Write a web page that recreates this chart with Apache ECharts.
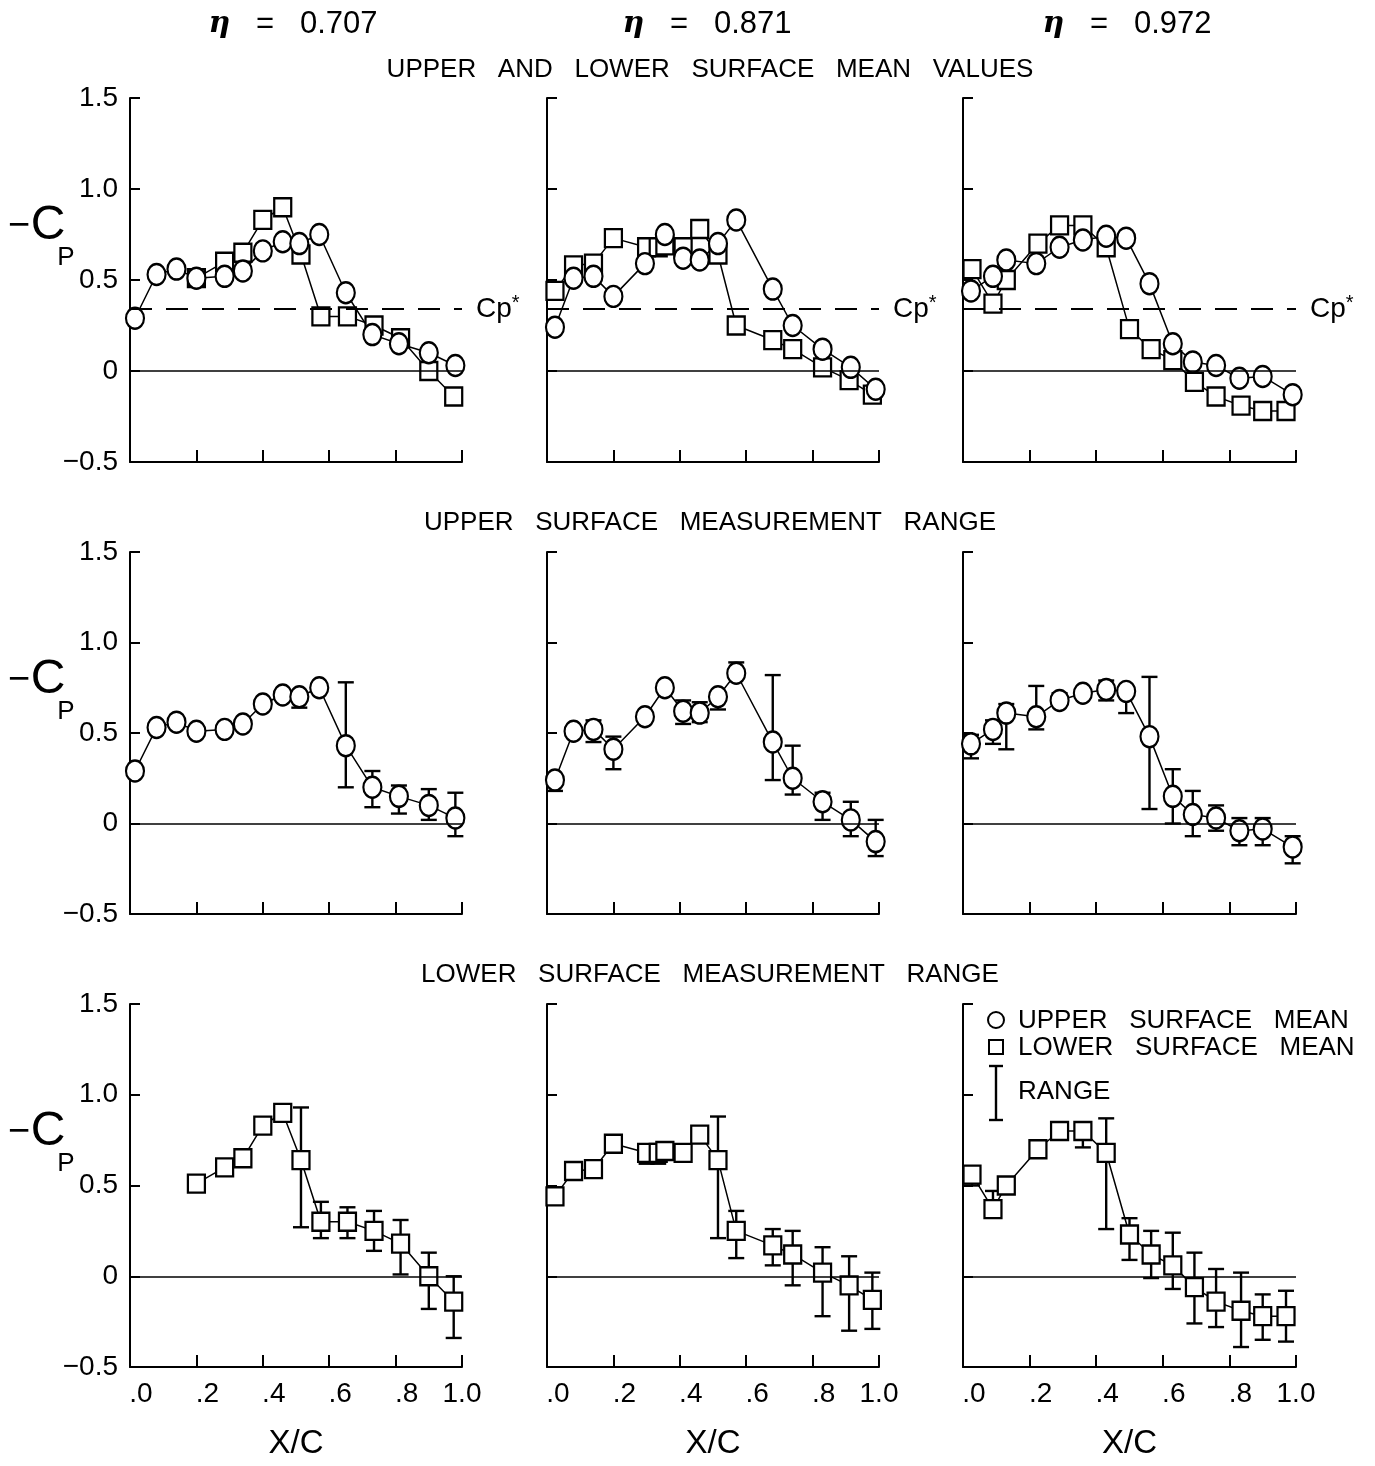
<!DOCTYPE html>
<html>
<head>
<meta charset="utf-8">
<script src="https://cdn.jsdelivr.net/npm/echarts@6/dist/echarts.min.js"></script>
<style>html,body{margin:0;padding:0;background:#fff}#c{width:1375px;height:1466px}</style>
</head>
<body>
<div id="c"></div>
<script>
// ---------- DATA ----------
const etaLabels = ['0.707', '0.871', '0.972'];
const rowTitles = ['UPPER   AND   LOWER   SURFACE   MEAN   VALUES', 'UPPER   SURFACE   MEASUREMENT   RANGE', 'LOWER   SURFACE   MEASUREMENT   RANGE'];
const yTicks = [-0.5, 0, 0.5, 1.0, 1.5];
const xTicks = [0, 0.2, 0.4, 0.6, 0.8, 1.0];
const cpStar = 0.34;

// eta = 0.707
const xU1 = [0.015, 0.08, 0.14, 0.20, 0.285, 0.34, 0.40, 0.46, 0.51, 0.57, 0.65, 0.73, 0.81, 0.90, 0.98];
const upperMean1 = [0.29, 0.53, 0.56, 0.51, 0.52, 0.55, 0.66, 0.71, 0.70, 0.75, 0.43, 0.20, 0.15, 0.10, 0.03];
const upperLow1 = [null, null, null, null, null, null, null, null, 0.64, null, 0.20, 0.09, 0.055, 0.02, -0.07];
const upperHigh1 = [null, null, null, null, null, null, null, null, 0.73, null, 0.78, 0.29, 0.21, 0.19, 0.17];
const xL1 = [0.20, 0.285, 0.34, 0.40, 0.46, 0.515, 0.575, 0.655, 0.735, 0.815, 0.90, 0.975];
const lowerMean1 = [0.51, 0.60, 0.65, 0.83, 0.90, 0.64, 0.30, 0.30, 0.25, 0.18, 0.00, -0.14];
const lowerLow1 = [0.47, null, null, null, null, 0.27, 0.21, 0.21, 0.14, 0.01, -0.18, -0.34];
const lowerHigh1 = [0.53, null, null, null, null, 0.93, 0.41, 0.38, 0.36, 0.31, 0.13, 0.00];

// eta = 0.871
const xU2 = [0.024, 0.08, 0.14, 0.20, 0.295, 0.355, 0.41, 0.46, 0.515, 0.57, 0.68, 0.74, 0.83, 0.915, 0.99];
const upperMean2 = [0.24, 0.51, 0.52, 0.41, 0.59, 0.75, 0.62, 0.61, 0.70, 0.83, 0.45, 0.25, 0.12, 0.02, -0.10];
const upperLow2 = [0.18, null, 0.45, 0.30, null, null, 0.55, 0.56, 0.63, 0.80, 0.24, 0.16, 0.02, -0.07, -0.18];
const upperHigh2 = [0.27, null, 0.57, 0.48, null, null, 0.68, 0.67, 0.73, 0.89, 0.82, 0.43, 0.17, 0.12, 0.02];
const xL2 = [0.024, 0.08, 0.14, 0.20, 0.30, 0.335, 0.355, 0.41, 0.46, 0.515, 0.57, 0.68, 0.74, 0.83, 0.91, 0.98];
const lowerMean2 = [0.44, 0.58, 0.59, 0.73, 0.68, 0.68, 0.69, 0.68, 0.78, 0.64, 0.25, 0.17, 0.12, 0.02, -0.05, -0.13];
const lowerLow2 = [0.41, null, null, null, 0.62, 0.62, null, null, null, 0.21, 0.10, 0.06, -0.05, -0.22, -0.30, -0.29];
const lowerHigh2 = [0.49, null, null, null, 0.70, 0.70, null, null, null, 0.88, 0.36, 0.26, 0.25, 0.16, 0.11, 0.02];

// eta = 0.972
const xU3 = [0.024, 0.09, 0.13, 0.22, 0.29, 0.36, 0.43, 0.49, 0.56, 0.63, 0.69, 0.76, 0.83, 0.90, 0.99];
const upperMean3 = [0.44, 0.52, 0.61, 0.59, 0.68, 0.72, 0.74, 0.73, 0.48, 0.15, 0.05, 0.03, -0.04, -0.03, -0.13];
const upperLow3 = [0.36, 0.44, 0.41, 0.52, 0.66, null, 0.68, 0.61, 0.08, 0.00, -0.07, -0.04, -0.12, -0.12, -0.22];
const upperHigh3 = [0.49, 0.57, 0.66, 0.76, 0.72, null, 0.79, 0.76, 0.81, 0.30, 0.18, 0.10, 0.03, 0.03, -0.07];
const xL3 = [0.027, 0.09, 0.13, 0.225, 0.29, 0.36, 0.43, 0.50, 0.565, 0.63, 0.695, 0.76, 0.835, 0.90, 0.97];
const lowerMean3 = [0.56, 0.37, 0.50, 0.70, 0.80, 0.80, 0.68, 0.23, 0.12, 0.06, -0.06, -0.14, -0.19, -0.22, -0.22];
const lowerLow3 = [0.50, 0.35, null, null, null, 0.71, 0.26, 0.09, -0.01, -0.07, -0.26, -0.28, -0.39, -0.35, -0.36];
const lowerHigh3 = [0.58, 0.47, null, null, null, 0.82, 0.87, 0.32, 0.25, 0.24, 0.13, 0.04, 0.02, -0.10, -0.08];

const upperX = [xU1, xU2, xU3];
const upperMean = [upperMean1, upperMean2, upperMean3];
const upperLow = [upperLow1, upperLow2, upperLow3];
const upperHigh = [upperHigh1, upperHigh2, upperHigh3];
const lowerX = [xL1, xL2, xL3];
const lowerMean = [lowerMean1, lowerMean2, lowerMean3];
const lowerLow = [lowerLow1, lowerLow2, lowerLow3];
const lowerHigh = [lowerHigh1, lowerHigh2, lowerHigh3];

// ---------- LAYOUT ----------
const FONT = 'Liberation Sans';
const colLeft = [130, 547, 963];
const colWidth = [332, 332, 333];
const rowTop = [98, 552, 1004];
const rowHeight = [364, 362, 363];

const zip = (xs, ys) => xs.map((x, i) => [x, ys[i]]);
const ranges = (xs, lo, hi) => xs.map((x, i) => [x, lo[i], hi[i]]).filter(d => d[1] != null && d[2] != null);

function meanSeries(g, data, symbol, size) {
  return {
    type: 'line', xAxisIndex: g, yAxisIndex: g, data: data, z: 3,
    symbol: symbol, symbolSize: size, showAllSymbol: true,
    itemStyle: {color: '#fff', borderColor: '#000', borderWidth: 2.3},
    lineStyle: {color: '#000', width: 1.5},
    emphasis: {disabled: true}, silent: true
  };
}
function errSeries(g, data) {
  return {
    type: 'custom', xAxisIndex: g, yAxisIndex: g, data: data, z: 2, silent: true,
    renderItem: function (params, api) {
      const x = api.value(0), lo = api.value(1), hi = api.value(2);
      const a = api.coord([x, hi]), b = api.coord([x, lo]);
      const w = 8;
      const st = {stroke: '#000', lineWidth: 2.4};
      return {type: 'group', children: [
        {type: 'line', shape: {x1: a[0], y1: a[1], x2: b[0], y2: b[1]}, style: st},
        {type: 'line', shape: {x1: a[0] - w, y1: a[1], x2: a[0] + w, y2: a[1]}, style: st},
        {type: 'line', shape: {x1: b[0] - w, y1: b[1], x2: b[0] + w, y2: b[1]}, style: st}
      ]};
    }
  };
}

const grids = [], xAxes = [], yAxes = [], series = [];
let gi = 0;
for (let r = 0; r < 3; r++) {
  for (let c = 0; c < 3; c++) {
    grids.push({left: colLeft[c], top: rowTop[r], width: colWidth[c], height: rowHeight[r], containLabel: false});
    xAxes.push({
      gridIndex: gi, type: 'value', min: 0, max: 1, interval: 0.2,
      axisLine: {show: true, onZero: false, lineStyle: {color: '#000', width: 2}},
      axisTick: {show: true, inside: true, length: 12, lineStyle: {color: '#000', width: 2}},
      splitLine: {show: false},
      axisLabel: {
        show: r === 2, margin: 13, color: '#000', fontFamily: FONT, fontSize: 28,
        formatter: v => v === 1 ? '{w|1.0}' : '{d|.' + Math.round(v * 10) + '}',
        rich: {d: {fontFamily: FONT, fontSize: 28, color: '#000', padding: [0, 0, 0, 22]}, w: {fontFamily: FONT, fontSize: 28, color: '#000'}}
      },
      name: r === 2 ? 'X/C' : '', nameLocation: 'middle', nameGap: 60,
      nameTextStyle: {fontFamily: FONT, fontSize: 33, color: '#000'}
    });
    yAxes.push({
      gridIndex: gi, type: 'value', min: -0.5, max: 1.5, interval: 0.5,
      axisLine: {show: true, onZero: false, lineStyle: {color: '#000', width: 2}},
      axisTick: {show: true, inside: true, length: 10, lineStyle: {color: '#000', width: 2}},
      splitLine: {show: false},
      axisLabel: {
        show: c === 0, margin: 12, color: '#000', fontFamily: FONT, fontSize: 28,
        formatter: v => v === 0 ? '0' : (v < 0 ? '\u2212' + Math.abs(v).toFixed(1) : v.toFixed(1))
      }
    });

    // reference lines
    const mlData = [{yAxis: 0, lineStyle: {type: 'solid', width: 1.5, color: '#000'}, label: {show: false}}];
    if (r === 0) {
      mlData.push({
        yAxis: cpStar, lineStyle: {type: [22, 14], width: 2, color: '#000'},
        label: {show: true, position: 'end', distance: 14, formatter: 'Cp{s|*}', color: '#000', fontFamily: FONT, fontSize: 28,
          rich: {s: {fontFamily: FONT, fontSize: 20, color: '#000', verticalAlign: 'top', padding: [0, 0, 12, 0]}}}
      });
    }
    series.push({
      type: 'line', xAxisIndex: gi, yAxisIndex: gi, data: [], silent: true,
      markLine: {symbol: 'none', silent: true, animation: false, data: mlData}
    });

    if (r === 1) series.push(errSeries(gi, ranges(upperX[c], upperLow[c], upperHigh[c])));
    if (r === 2) series.push(errSeries(gi, ranges(lowerX[c], lowerLow[c], lowerHigh[c])));
    if (r === 0 || r === 2) series.push(meanSeries(gi, zip(lowerX[c], lowerMean[c]), 'rect', [17, 18]));
    if (r === 0 || r === 1) series.push(meanSeries(gi, zip(upperX[c], upperMean[c]), 'circle', [18, 21]));
    gi++;
  }
}

// ---------- TEXT (titles, axis names, legend) ----------
const graphics = [];
const colCenter = [293, 707, 1127];
for (let c = 0; c < 3; c++) {
  graphics.push({type: 'text', x: colCenter[c], y: 24, style: {
    text: '{e|\u03b7}   =   ' + etaLabels[c], align: 'center', verticalAlign: 'middle',
    fontFamily: FONT, fontSize: 31, fill: '#000',
    rich: {e: {fontFamily: 'DejaVu Serif', fontStyle: 'italic', fontWeight: 'bold', fontSize: 30, fill: '#000'}}
  }});
}
const titleY = [70, 523, 975];
for (let r = 0; r < 3; r++) {
  graphics.push({type: 'text', x: 710, y: titleY[r], style: {
    text: rowTitles[r], align: 'center', verticalAlign: 'middle', fontFamily: FONT, fontSize: 26, fill: '#000'
  }});
  // -Cp label
  graphics.push({type: 'text', x: 19, y: rowTop[r] + 129, style: {text: '\u2212', align: 'center', verticalAlign: 'middle', fontFamily: FONT, fontSize: 38, fill: '#000'}});
  graphics.push({type: 'text', x: 48, y: rowTop[r] + 128, style: {text: 'C', align: 'center', verticalAlign: 'middle', fontFamily: FONT, fontSize: 48, fill: '#000'}});
  graphics.push({type: 'text', x: 66, y: rowTop[r] + 160, style: {text: 'P', align: 'center', verticalAlign: 'middle', fontFamily: FONT, fontSize: 26, fill: '#000'}});
}
// legend (lower right panel)
graphics.push({type: 'circle', shape: {cx: 996, cy: 1020, r: 8}, style: {fill: '#fff', stroke: '#000', lineWidth: 2}});
graphics.push({type: 'rect', shape: {x: 989, y: 1040, width: 14, height: 14}, style: {fill: '#fff', stroke: '#000', lineWidth: 2}});
graphics.push({type: 'line', shape: {x1: 996, y1: 1066, x2: 996, y2: 1120}, style: {stroke: '#000', lineWidth: 2.4}});
graphics.push({type: 'line', shape: {x1: 989, y1: 1066, x2: 1003, y2: 1066}, style: {stroke: '#000', lineWidth: 2.4}});
graphics.push({type: 'line', shape: {x1: 989, y1: 1120, x2: 1003, y2: 1120}, style: {stroke: '#000', lineWidth: 2.4}});
graphics.push({type: 'text', x: 1018, y: 1021, style: {text: 'UPPER   SURFACE   MEAN', verticalAlign: 'middle', fontFamily: FONT, fontSize: 26, fill: '#000'}});
graphics.push({type: 'text', x: 1018, y: 1048, style: {text: 'LOWER   SURFACE   MEAN', verticalAlign: 'middle', fontFamily: FONT, fontSize: 26, fill: '#000'}});
graphics.push({type: 'text', x: 1018, y: 1092, style: {text: 'RANGE', verticalAlign: 'middle', fontFamily: FONT, fontSize: 26, fill: '#000'}});

const chart = echarts.init(document.getElementById('c'), null, {renderer: 'canvas'});
chart.setOption({
  animation: false,
  backgroundColor: '#fff',
  grid: grids, xAxis: xAxes, yAxis: yAxes, series: series,
  graphic: graphics
});
</script>
</body>
</html>
